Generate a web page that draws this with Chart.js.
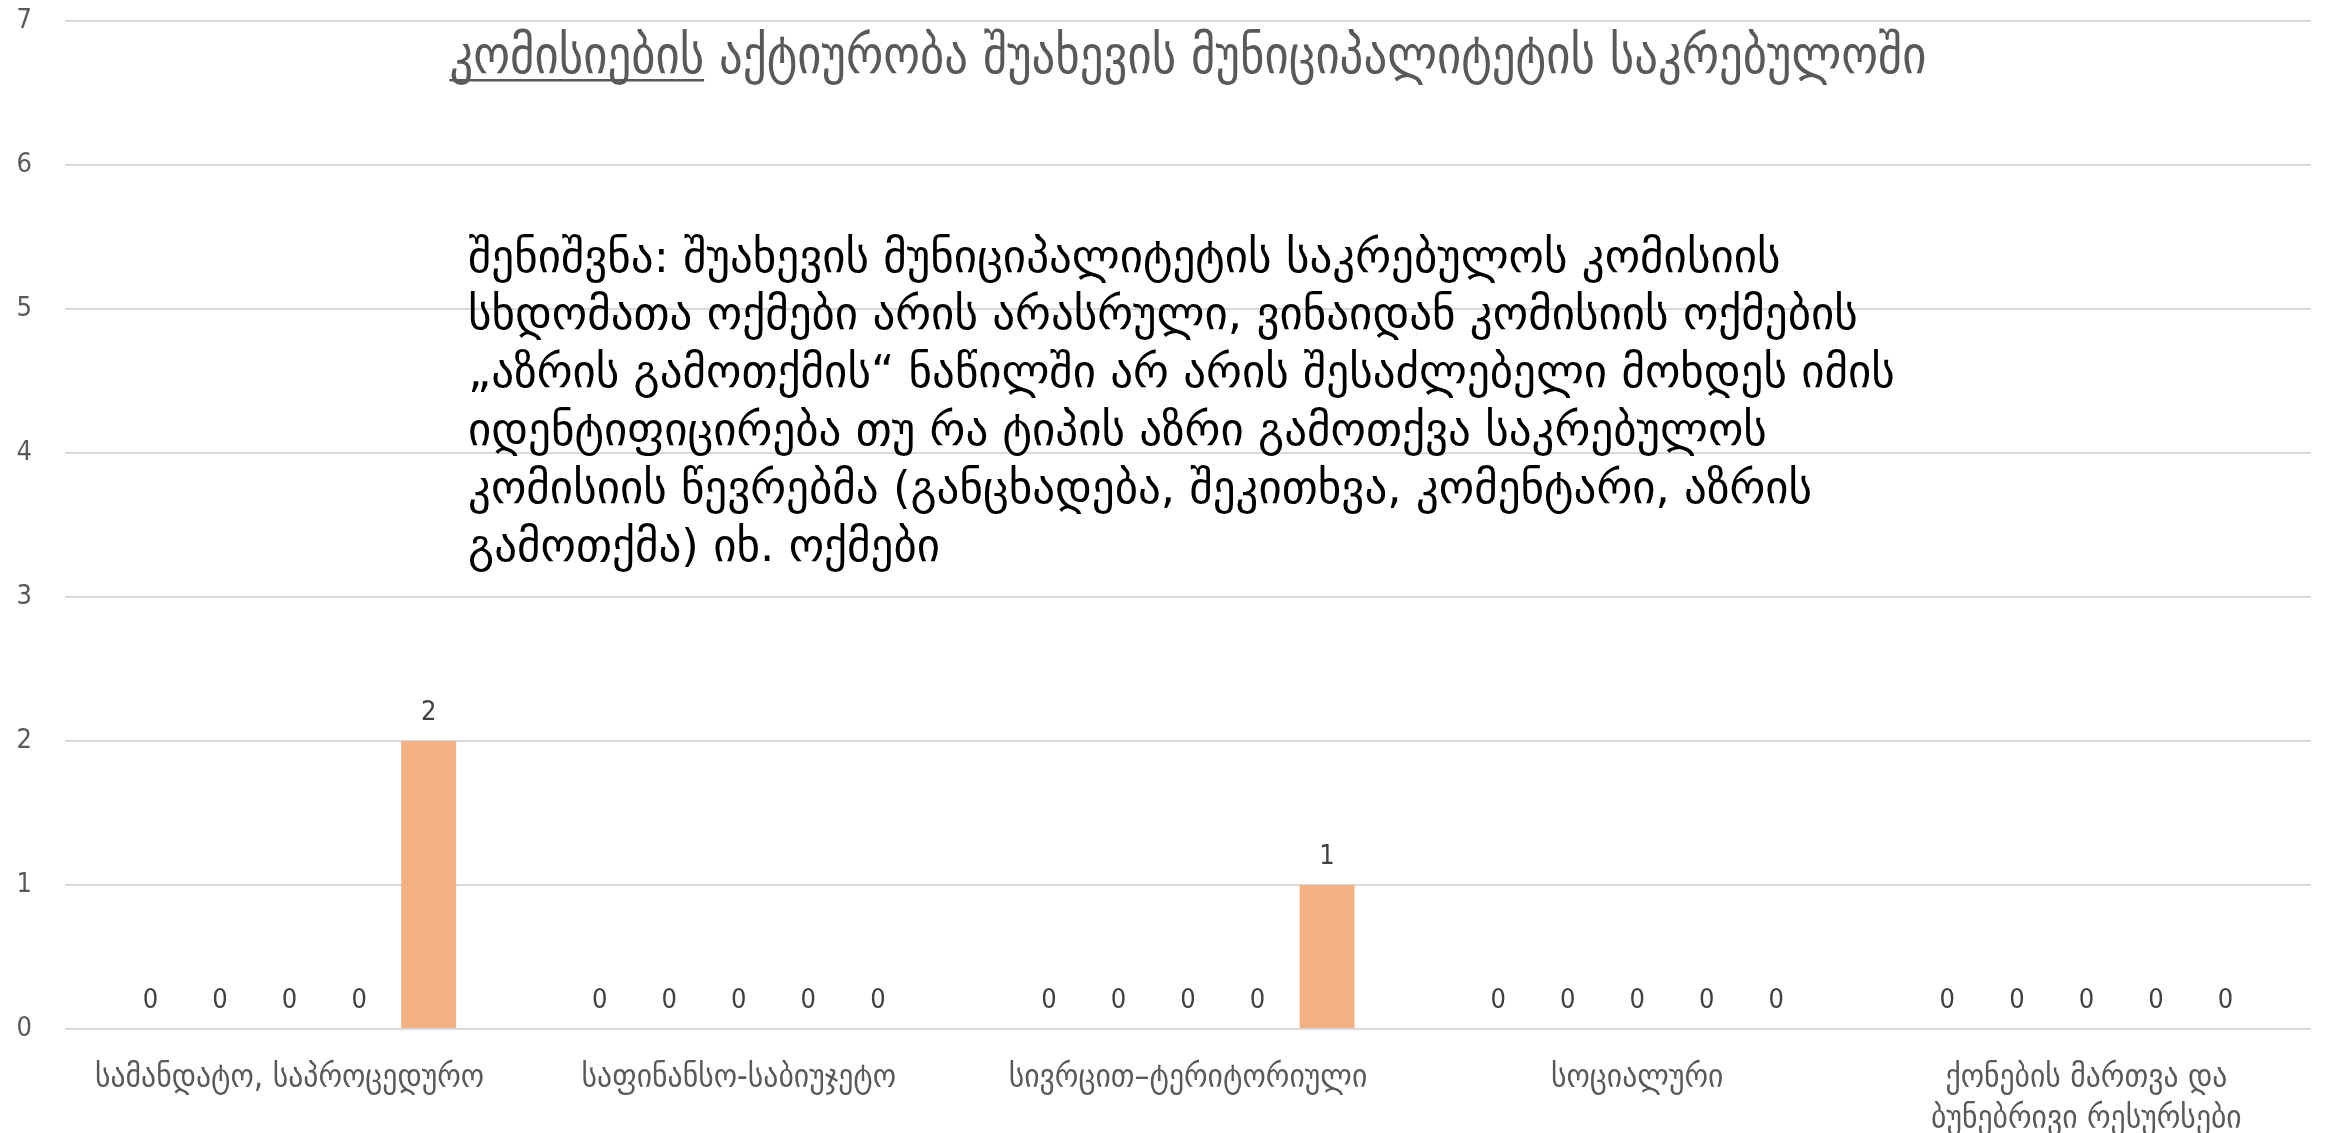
<!DOCTYPE html>
<html>
<head>
<meta charset="utf-8">
<script src="https://cdn.jsdelivr.net/npm/chart.js@4"></script>
<style>
  html, body { margin: 0; padding: 0; background: #fff; }
  #wrap { width: 2326px; height: 1133px; }
</style>
</head>
<body>
<div id="wrap"><canvas id="komisiebi"></canvas></div>
<script>
// categories (x axis), second line where the label wraps
const kategoriebi = [
  "სამანდატო, საპროცედურო",
  "საფინანსო-საბიუჯეტო",
  "სივრცით–ტერიტორიული",
  "სოციალური",
  ["ქონების მართვა და", "ბუნებრივი რესურსები"]
];
const seriebi = ["განცხადება", "შეკითხვა", "კომენტარი", "ინიციატივა", "აზრის გამოთქმა"];
const mnishvnelobebi = [
  [0, 0, 0, 0, 0],
  [0, 0, 0, 0, 0],
  [0, 0, 0, 0, 0],
  [0, 0, 0, 0, 0],
  [2, 0, 1, 0, 0]
];
const feri = ["#9DC3E6", "#C9C9C9", "#FFD966", "#A9D18E", "#F4B183"];
const yTicks = [0, 1, 2, 3, 4, 5, 6, 7];

const satauri_xazgasmuli = "კომისიების";
const satauri_danarcheni = " აქტიურობა შუახევის მუნიციპალიტეტის საკრებულოში";
const shenishvna = [
  "შენიშვნა: შუახევის მუნიციპალიტეტის საკრებულოს კომისიის",
  "სხდომათა ოქმები არის არასრული, ვინაიდან კომისიის ოქმების",
  "„აზრის გამოთქმის“ ნაწილში არ არის შესაძლებელი მოხდეს იმის",
  "იდენტიფიცირება თუ რა ტიპის აზრი გამოთქვა საკრებულოს",
  "კომისიის წევრებმა (განცხადება, შეკითხვა, კომენტარი, აზრის",
  "გამოთქმა) იხ. ოქმები"
];

const GEO = "'DejaVu Sans Condensed', 'DejaVu Sans', sans-serif";
const GEO_WIDE = "'DejaVu Sans', sans-serif";

// value labels above every bar (zeros too)
const mnishvneloba_plugin = {
  id: "valueLabels",
  afterDatasetsDraw(chart) {
    const ctx = chart.ctx;
    ctx.save();
    ctx.font = "27px " + GEO;
    ctx.fillStyle = "#404040";
    ctx.textAlign = "center";
    ctx.textBaseline = "alphabetic";
    chart.data.datasets.forEach((ds, di) => {
      chart.getDatasetMeta(di).data.forEach((bar, i) => {
        ctx.fillText(String(ds.data[i]), bar.x, bar.y - 21);
      });
    });
    ctx.restore();
  }
};

// title with the first word underlined + the note text
const teqsti_plugin = {
  id: "texts",
  afterDraw(chart) {
    const ctx = chart.ctx;
    const area = chart.chartArea;
    ctx.save();
    ctx.font = "52px " + GEO;
    ctx.fillStyle = "#595959";
    ctx.textBaseline = "alphabetic";
    const w1 = ctx.measureText(satauri_xazgasmuli).width;
    const w2 = ctx.measureText(satauri_danarcheni).width;
    const cx = (area.left + area.right) / 2;
    const x0 = cx - (w1 + w2) / 2;
    const by = 73;
    ctx.textAlign = "left";
    ctx.fillText(satauri_xazgasmuli, x0, by);
    ctx.fillText(satauri_danarcheni, x0 + w1, by);
    ctx.fillRect(x0, by + 6, w1, 2.5);

    ctx.font = "45px " + GEO_WIDE;
    ctx.fillStyle = "#000000";
    ctx.textBaseline = "middle";
    shenishvna.forEach((line, i) => {
      ctx.fillText(line, 468, 260 + i * 57.8);
    });
    ctx.restore();
  }
};

const ctx = document.getElementById("komisiebi").getContext("2d");
new Chart(ctx, {
  type: "bar",
  data: {
    labels: kategoriebi,
    datasets: seriebi.map((s, k) => ({
      label: s,
      data: mnishvnelobebi[k],
      backgroundColor: feri[k],
      barPercentage: 0.79,
      categoryPercentage: 0.774
    }))
  },
  options: {
    responsive: true,
    maintainAspectRatio: false,
    animation: false,
    layout: { padding: { top: 21, right: 15, left: 0, bottom: 0 } },
    scales: {
      x: {
        grid: { display: false },
        border: { display: false },
        ticks: {
          color: "#595959",
          font: { family: GEO, size: 33, lineHeight: 1.27 },
          padding: 20,
          maxRotation: 0,
          autoSkip: false
        },
        afterFit: (axis) => {
          axis.height = 104;
          axis.paddingLeft = 0;
          axis.paddingRight = 0;
        }
      },
      y: {
        min: 0,
        max: 7,
        afterBuildTicks: (axis) => { axis.ticks = yTicks.map((v) => ({ value: v })); },
        grid: { color: "#D9D9D9", lineWidth: 2, drawTicks: false },
        border: { display: false },
        ticks: {
          color: "#595959",
          font: { family: GEO, size: 27 },
          padding: 33
        },
        afterFit: (axis) => {
          axis.width = 65;
          axis.paddingTop = 0;
          axis.paddingBottom = 0;
        }
      }
    },
    plugins: {
      legend: { display: false },
      title: { display: false },
      tooltip: { enabled: false }
    }
  },
  plugins: [mnishvneloba_plugin, teqsti_plugin]
});
</script>
</body>
</html>
